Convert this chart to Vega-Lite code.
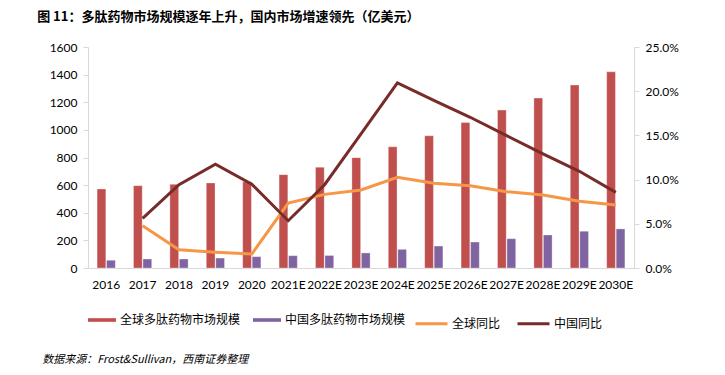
{
  "$schema": "https://vega.github.io/schema/vega-lite/v6.json",
  "background": "white",
  "padding": {"left": 37, "top": 11, "right": 10, "bottom": 5},
  "title": {
    "text": "数据来源：Frost&Sullivan，西南证券整理",
    "orient": "bottom",
    "anchor": "start",
    "frame": "bounds",
    "font": "Noto Sans CJK SC",
    "fontSize": 11,
    "fontStyle": "italic",
    "fontWeight": "normal",
    "color": "#000000",
    "dx": 5,
    "offset": 24
  },
  "datasets": {
    "bars": [
      {"year": "2016", "series": "全球多肽药物市场规模", "value": 572},
      {"year": "2017", "series": "全球多肽药物市场规模", "value": 596},
      {"year": "2018", "series": "全球多肽药物市场规模", "value": 606},
      {"year": "2019", "series": "全球多肽药物市场规模", "value": 616},
      {"year": "2020", "series": "全球多肽药物市场规模", "value": 624},
      {"year": "2021E", "series": "全球多肽药物市场规模", "value": 676},
      {"year": "2022E", "series": "全球多肽药物市场规模", "value": 729},
      {"year": "2023E", "series": "全球多肽药物市场规模", "value": 799},
      {"year": "2024E", "series": "全球多肽药物市场规模", "value": 877},
      {"year": "2025E", "series": "全球多肽药物市场规模", "value": 957},
      {"year": "2026E", "series": "全球多肽药物市场规模", "value": 1053},
      {"year": "2027E", "series": "全球多肽药物市场规模", "value": 1143},
      {"year": "2028E", "series": "全球多肽药物市场规模", "value": 1230},
      {"year": "2029E", "series": "全球多肽药物市场规模", "value": 1324},
      {"year": "2030E", "series": "全球多肽药物市场规模", "value": 1420},
      {"year": "2016", "series": "中国多肽药物市场规模", "value": 56},
      {"year": "2017", "series": "中国多肽药物市场规模", "value": 65},
      {"year": "2018", "series": "中国多肽药物市场规模", "value": 65},
      {"year": "2019", "series": "中国多肽药物市场规模", "value": 72},
      {"year": "2020", "series": "中国多肽药物市场规模", "value": 82},
      {"year": "2021E", "series": "中国多肽药物市场规模", "value": 89},
      {"year": "2022E", "series": "中国多肽药物市场规模", "value": 90},
      {"year": "2023E", "series": "中国多肽药物市场规模", "value": 109},
      {"year": "2024E", "series": "中国多肽药物市场规模", "value": 135},
      {"year": "2025E", "series": "中国多肽药物市场规模", "value": 159},
      {"year": "2026E", "series": "中国多肽药物市场规模", "value": 188},
      {"year": "2027E", "series": "中国多肽药物市场规模", "value": 212},
      {"year": "2028E", "series": "中国多肽药物市场规模", "value": 239},
      {"year": "2029E", "series": "中国多肽药物市场规模", "value": 266},
      {"year": "2030E", "series": "中国多肽药物市场规模", "value": 283}
    ],
    "rates": [
      {"year": "2017", "series": "全球同比", "rate": 0.0479},
      {"year": "2018", "series": "全球同比", "rate": 0.0207},
      {"year": "2019", "series": "全球同比", "rate": 0.0178},
      {"year": "2020", "series": "全球同比", "rate": 0.0158},
      {"year": "2021E", "series": "全球同比", "rate": 0.0735},
      {"year": "2022E", "series": "全球同比", "rate": 0.0833},
      {"year": "2023E", "series": "全球同比", "rate": 0.0882},
      {"year": "2024E", "series": "全球同比", "rate": 0.1026},
      {"year": "2025E", "series": "全球同比", "rate": 0.0958},
      {"year": "2026E", "series": "全球同比", "rate": 0.0931},
      {"year": "2027E", "series": "全球同比", "rate": 0.0863},
      {"year": "2028E", "series": "全球同比", "rate": 0.0826},
      {"year": "2029E", "series": "全球同比", "rate": 0.0755},
      {"year": "2030E", "series": "全球同比", "rate": 0.0713},
      {"year": "2017", "series": "中国同比", "rate": 0.0562},
      {"year": "2018", "series": "中国同比", "rate": 0.0942},
      {"year": "2019", "series": "中国同比", "rate": 0.1173},
      {"year": "2020", "series": "中国同比", "rate": 0.0947},
      {"year": "2021E", "series": "中国同比", "rate": 0.0535},
      {"year": "2022E", "series": "中国同比", "rate": 0.0942},
      {"year": "2023E", "series": "中国同比", "rate": 0.1516},
      {"year": "2024E", "series": "中国同比", "rate": 0.2093},
      {"year": "2025E", "series": "中国同比", "rate": 0.1897},
      {"year": "2026E", "series": "中国同比", "rate": 0.1705},
      {"year": "2027E", "series": "中国同比", "rate": 0.1497},
      {"year": "2028E", "series": "中国同比", "rate": 0.1290},
      {"year": "2029E", "series": "中国同比", "rate": 0.1094},
      {"year": "2030E", "series": "中国同比", "rate": 0.0856}
    ]
  },
  "vconcat": [
    {
      "width": 546,
      "height": 221,
      "title": {
        "text": "图 11：多肽药物市场规模逐年上升，国内市场增速领先（亿美元）",
        "anchor": "start",
        "frame": "bounds",
        "font": "Noto Sans CJK SC",
        "fontSize": 13,
        "fontWeight": "bold",
        "color": "#000000",
        "dx": -12,
        "offset": 17
      },
      "layer": [
        {
          "data": {"name": "bars"},
          "mark": {"type": "bar", "stroke": "#ffffff", "strokeOpacity": 0.5, "strokeWidth": 0.6},
          "encoding": {
            "x": {
              "field": "year", "type": "nominal",
              "scale": {"paddingInner": 0.5, "paddingOuter": 0.25},
              "axis": {"title": null, "labelAngle": 0, "ticks": false, "labelPadding": 11, "domainColor": "#D9D9D9"}
            },
            "xOffset": {
              "field": "series", "type": "nominal",
              "sort": ["全球多肽药物市场规模", "中国多肽药物市场规模"],
              "scale": {"paddingInner": 0.08}
            },
            "y": {
              "field": "value", "type": "quantitative",
              "scale": {"domain": [0, 1600]},
              "axis": {"title": null, "format": "d", "values": [0, 200, 400, 600, 800, 1000, 1200, 1400, 1600], "grid": false, "orient": "left", "labelPadding": 6}
            },
            "fill": {
              "field": "series", "type": "nominal",
              "sort": ["全球多肽药物市场规模", "中国多肽药物市场规模"],
              "scale": {"domain": ["全球多肽药物市场规模", "中国多肽药物市场规模"], "range": ["#C0504D", "#8064A2"]},
              "legend": {"title": null, "orient": "bottom", "direction": "horizontal", "symbolType": "M-1,-0.13L1,-0.13L1,0.13L-1,0.13Z", "symbolSize": 784, "symbolStrokeWidth": 0, "labelOffset": 4, "columnPadding": 12}
            }
          }
        },
        {
          "data": {"name": "rates"},
          "mark": {"type": "line", "strokeWidth": 3},
          "encoding": {
            "x": {"field": "year", "type": "nominal"},
            "y": {
              "field": "rate", "type": "quantitative",
              "scale": {"domain": [0, 0.25]},
              "axis": {"title": null, "orient": "right", "format": ".1%", "values": [0, 0.05, 0.1, 0.15, 0.2, 0.25], "grid": false, "labelPadding": 6}
            },
            "stroke": {
              "field": "series", "type": "nominal",
              "sort": ["全球同比", "中国同比"],
              "scale": {"domain": ["全球同比", "中国同比"], "range": ["#F79646", "#772C2A"]},
              "legend": {"title": null, "orient": "bottom", "direction": "horizontal", "symbolType": "stroke", "symbolStrokeWidth": 3, "symbolSize": 1024, "labelOffset": 3, "columnPadding": 10}
            }
          }
        }
      ],
      "resolve": {"scale": {"y": "independent"}}
    }
  ],
  "config": {
    "view": {"stroke": null},
    "axis": {
      "labelFont": "Lato",
      "labelFontSize": 12,
      "labelColor": "#000000",
      "domainColor": "#D9D9D9",
      "tickColor": "#D9D9D9",
      "tickSize": 5
    },
    "legend": {
      "labelFont": "Noto Sans CJK SC",
      "labelFontSize": 12,
      "labelColor": "#000000",
      "symbolOffset": 0,
      "offset": 16,
      "layout": {"bottom": {"anchor": "start", "direction": "horizontal", "margin": 8}}
    }
  }
}
